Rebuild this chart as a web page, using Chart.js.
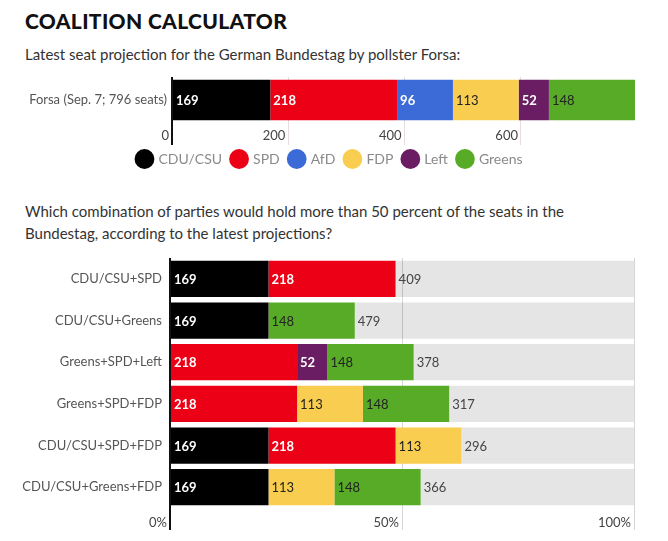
<!DOCTYPE html>
<html>
<head>
<meta charset="utf-8">
<script src="https://cdn.jsdelivr.net/npm/chart.js@4.4.0/dist/chart.umd.min.js"></script>
<style>
    body { margin: 0; width: 668px; height: 541px; background: #fff; overflow: hidden; position: relative; font-family: Lato, "Open Sans", sans-serif; }
    .title { position: absolute; left: 25px; top: 8px; font-size: 21px; font-weight: 900; color: #111; letter-spacing: 0.35px; }
    .sub { position: absolute; left: 25px; font-size: 15px; color: #333; line-height: 22px; }
    canvas { position: absolute; left: 0; }
</style>
</head>
<body>
<div class="title">COALITION CALCULATOR</div>
<div class="sub" style="top:43px">Latest seat projection for the German Bundestag by pollster Forsa:</div>
<div class="sub" style="top:200px">Which combination of parties would hold more than 50 percent of the seats in the<br>Bundestag, according to the latest projections?</div>
<div style="position:absolute;left:25px;top:66px;width:643px;height:110px"><canvas id="seatChart"></canvas></div>
<div style="position:absolute;left:0;top:250px;width:668px;height:291px"><canvas id="coalitionChart"></canvas></div>
<script>
var parties = ['CDU/CSU', 'SPD', 'AfD', 'FDP', 'Left', 'Greens'];
var seats = [169, 218, 96, 113, 52, 148];
var partyColors = ['#000000', '#ec0016', '#3c6ad6', '#f9cd4f', '#6a1d63', '#58ab27'];
var textColors = ['#fff', '#fff', '#fff', '#222', '#fff', '#222'];
var pollLabel = ['Forsa (Sep. 7; 796 seats)'];
var totalSeats = 796;
var seatTicks = [0, 200, 400, 600];

var coalitions = ['CDU/CSU+SPD', 'CDU/CSU+Greens', 'Greens+SPD+Left', 'Greens+SPD+FDP', 'CDU/CSU+SPD+FDP', 'CDU/CSU+Greens+FDP'];
var cduSeats = [169, 169, null, null, 169, 169];
var spdSeats = [218, null, 218, 218, 218, null];
var fdpSeats = [null, null, null, 113, 113, 113];
var leftSeats = [null, null, 52, null, null, null];
var greensSeats = [null, 148, 148, 148, null, 148];
var remaining = [409, 479, 378, 317, 296, 366];
var percentTicks = ['0%', '50%', '100%'];

// writes the value at the left end of each bar
var barText = {
    id: 'barText',
    afterDatasetsDraw: function (chart) {
        var ctx = chart.ctx;
        chart.data.datasets.forEach(function (ds, i) {
            var meta = chart.getDatasetMeta(i);
            meta.data.forEach(function (bar, j) {
                var v = ds.data[j];
                if (v == null) return;
                ctx.save();
                ctx.fillStyle = ds.textColor;
                ctx.font = (ds.textColor === '#fff' ? '700 ' : '400 ') + '13px Lato';
                ctx.textBaseline = 'middle';
                ctx.fillText(v, Math.min(bar.x, bar.base) + 3, bar.y + 1);
                ctx.restore();
            });
        });
    }
};

// y axis: fixed width, no extra padding above/below the categories
function fixYAxis(width) {
    return function (scale) {
        scale.width = width;
        scale.paddingTop = 0;
        scale.paddingBottom = 0;
    };
}

Chart.defaults.font.family = 'Lato';
Chart.defaults.animation = false;

new Chart(document.getElementById('seatChart'), {
    type: 'bar',
    data: {
        labels: pollLabel,
        datasets: parties.map(function (p, i) {
            return {
                label: p,
                data: [seats[i]],
                backgroundColor: partyColors[i],
                textColor: textColors[i],
                barPercentage: 0.88,
                categoryPercentage: 1
            };
        })
    },
    options: {
        indexAxis: 'y',
        responsive: true,
        maintainAspectRatio: false,
        layout: { autoPadding: false, padding: { top: 11, right: 33, left: 0, bottom: 0 } },
        scales: {
            x: {
                stacked: true,
                min: 0,
                max: totalSeats,
                afterBuildTicks: function (scale) {
                    scale.ticks = seatTicks.map(function (v) { return { value: v }; });
                },
                afterFit: function (scale) { scale.height = 19; },
                border: { display: false },
                grid: {
                    color: function (c) { return c.tick && c.tick.value === 0 ? '#111' : '#e6dcdc'; },
                    lineWidth: function (c) { return c.tick && c.tick.value === 0 ? 2 : 1; },
                    tickLength: 22
                },
                ticks: { align: 'end', padding: -17, labelOffset: -3, color: '#444', font: { size: 13 } }
            },
            y: {
                stacked: true,
                afterFit: fixYAxis(147),
                border: { display: false },
                grid: { display: false, drawTicks: false },
                ticks: { padding: 5, color: '#555', font: { size: 13 } }
            }
        },
        plugins: {
            legend: {
                position: 'bottom',
                labels: {
                    usePointStyle: true,
                    pointStyle: 'circle',
                    boxWidth: 15,
                    boxHeight: 15,
                    padding: 10,
                    color: '#8a8a8a',
                    font: { size: 14 }
                }
            },
            tooltip: { enabled: false }
        }
    },
    plugins: [barText]
});

var coalitionSets = [
    { label: 'CDU/CSU', data: cduSeats, i: 0 },
    { label: 'SPD', data: spdSeats, i: 1 },
    { label: 'FDP', data: fdpSeats, i: 3 },
    { label: 'Left', data: leftSeats, i: 4 },
    { label: 'Greens', data: greensSeats, i: 5 }
];

var coalitionDatasets = coalitionSets.map(function (s) {
    return {
        label: s.label,
        data: s.data,
        backgroundColor: partyColors[s.i],
        textColor: textColors[s.i],
        barPercentage: 0.87,
        categoryPercentage: 1
    };
});
coalitionDatasets.push({
    label: 'Remaining',
    data: remaining,
    backgroundColor: 'rgba(0,0,0,0.1)',
    textColor: '#444',
    barPercentage: 0.87,
    categoryPercentage: 1
});

new Chart(document.getElementById('coalitionChart'), {
    type: 'bar',
    data: { labels: coalitions, datasets: coalitionDatasets },
    options: {
        indexAxis: 'y',
        responsive: true,
        maintainAspectRatio: false,
        layout: { autoPadding: false, padding: { top: 8, right: 34, left: 0, bottom: 0 } },
        scales: {
            x: {
                stacked: true,
                min: 0,
                max: totalSeats,
                afterBuildTicks: function (scale) {
                    scale.ticks = percentTicks.map(function (t, k) { return { value: totalSeats * k / 2 }; });
                },
                afterFit: function (scale) { scale.height = 33; },
                border: { display: false },
                grid: {
                    color: function (c) { return c.tick && c.tick.value === 0 ? '#111' : '#d6d6d6'; },
                    lineWidth: function (c) { return c.tick && c.tick.value === 0 ? 2 : 1; },
                    tickLength: 22
                },
                ticks: {
                    align: 'end', padding: -15, labelOffset: -3, color: '#444', font: { size: 13 },
                    callback: function (v, k) { return percentTicks[k]; }
                }
            },
            y: {
                stacked: true,
                afterFit: fixYAxis(170),
                border: { display: false },
                grid: { display: false, drawTicks: false },
                ticks: { padding: 8, color: '#555', font: { size: 13 } }
            }
        },
        plugins: {
            legend: { display: false },
            tooltip: { enabled: false }
        }
    },
    plugins: [barText]
});
</script>
</body>
</html>
